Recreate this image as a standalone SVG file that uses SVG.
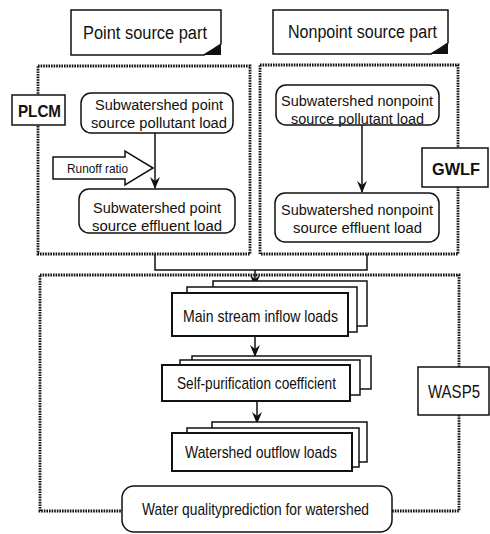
<svg xmlns="http://www.w3.org/2000/svg" width="490" height="534" viewBox="0 0 490 534">
  <style>
    text { font-family: "Liberation Sans", Arial, sans-serif; fill: #111; }
    .t { font-size: 17px; }
    .t2 { font-size: 15.5px; }
    .big { font-size: 18px; }
    .lab { font-size: 17px; font-weight: bold; }
    .small { font-size: 13.5px; }
    .box { fill: #fff; stroke: #111; stroke-width: 1.5; }
    .front { fill: #fff; stroke: #111; stroke-width: 2; }
    .dot { fill: none; stroke: #111; stroke-width: 2.8; stroke-dasharray: 1.6 1; }
    .line { fill: none; stroke: #111; stroke-width: 1.5; }
  </style>
  <defs>
    <marker id="head" viewBox="0 0 12 10" refX="11" refY="5" markerWidth="12" markerHeight="10" markerUnits="userSpaceOnUse" orient="auto">
      <path d="M0,0 L12,5 L0,10 L4,5 z" fill="#111"/>
    </marker>
  </defs>
  <rect width="490" height="534" fill="#fff"/>

  <!-- dotted model regions -->
  <g id="regions">
    <rect class="dot" x="38" y="66" width="212" height="188"/>
    <rect class="dot" x="260" y="65" width="198" height="189"/>
    <rect class="dot" x="40" y="275" width="419" height="236"/>
  </g>

  <!-- connectors -->
  <g id="connectors">
    <line class="line" x1="155" y1="133" x2="155" y2="188" marker-end="url(#head)"/>
    <line class="line" x1="362" y1="125" x2="362" y2="192" marker-end="url(#head)"/>
    <polyline class="line" points="155,254 155,270 367,270 367,254"/>
    <line class="line" x1="255" y1="270" x2="255" y2="286" marker-end="url(#head)"/>
    <line class="line" x1="255" y1="336" x2="255" y2="356" marker-end="url(#head)"/>
    <line class="line" x1="257" y1="401" x2="257" y2="423" marker-end="url(#head)"/>
  </g>

  <!-- part headers with curled corner -->
  <g id="point-part">
    <path class="box" d="M71,10 H221 V44 Q212,50 204,55 H71 Z"/>
    <path d="M204,55 Q212,50 221,44 V55 Z" fill="#111"/>
    <text class="big" x="83" y="39" textLength="124" lengthAdjust="spacingAndGlyphs">Point source part</text>
  </g>
  <g id="nonpoint-part">
    <path class="box" d="M273,10 H448 V43 Q439,49 431,54 H273 Z"/>
    <path d="M431,54 Q439,49 448,43 V54 Z" fill="#111"/>
    <text class="big" x="288" y="38" textLength="149" lengthAdjust="spacingAndGlyphs">Nonpoint source part</text>
  </g>

  <!-- model labels -->
  <g id="plcm">
    <rect class="box" x="12" y="95" width="53" height="30"/>
    <text class="lab" x="18" y="117" textLength="43" lengthAdjust="spacingAndGlyphs">PLCM</text>
  </g>
  <g id="gwlf">
    <rect class="box" x="422" y="148" width="66" height="39"/>
    <text class="lab" x="432" y="175" textLength="48" lengthAdjust="spacingAndGlyphs">GWLF</text>
  </g>
  <g id="wasp5">
    <rect class="box" x="418" y="367" width="71" height="48"/>
    <text class="big" x="428" y="398" textLength="52" lengthAdjust="spacingAndGlyphs">WASP5</text>
  </g>

  <!-- point source boxes -->
  <g id="ps-pollutant">
    <rect class="box" x="81" y="93" width="152" height="40" rx="10"/>
    <text class="t2" x="95" y="110" textLength="128" lengthAdjust="spacingAndGlyphs">Subwatershed point</text>
    <text class="t2" x="91" y="128" textLength="136" lengthAdjust="spacingAndGlyphs">source pollutant load</text>
  </g>
  <g id="runoff-ratio">
    <path class="box" d="M53,157 H125 V151 L153,168 L125,185 V179 H53 Z"/>
    <text class="small" x="67" y="173" textLength="61" lengthAdjust="spacingAndGlyphs">Runoff ratio</text>
  </g>
  <g id="ps-effluent">
    <rect class="box" x="79" y="189" width="156" height="44" rx="10"/>
    <text class="t2" x="93" y="213" textLength="128" lengthAdjust="spacingAndGlyphs">Subwatershed point</text>
    <text class="t2" x="92" y="231" textLength="130" lengthAdjust="spacingAndGlyphs">source effluent load</text>
  </g>

  <!-- nonpoint source boxes -->
  <g id="nps-pollutant">
    <rect class="box" x="276" y="85" width="163" height="40" rx="10"/>
    <text class="t2" x="281" y="106" textLength="152" lengthAdjust="spacingAndGlyphs">Subwatershed nonpoint</text>
    <text class="t2" x="291" y="124" textLength="133" lengthAdjust="spacingAndGlyphs">source pollutant load</text>
  </g>
  <g id="nps-effluent">
    <rect class="box" x="275" y="193" width="164" height="49" rx="10"/>
    <text class="t2" x="281" y="215" textLength="152" lengthAdjust="spacingAndGlyphs">Subwatershed nonpoint</text>
    <text class="t2" x="293" y="233" textLength="129" lengthAdjust="spacingAndGlyphs">source effluent load</text>
  </g>

  <!-- stacked documents -->
  <g id="inflow-loads">
    <rect class="box" x="213" y="281" width="154" height="45"/>
    <rect class="box" x="187" y="287" width="170" height="45"/>
    <rect class="front" x="172" y="293" width="176" height="43"/>
    <text class="t" x="183" y="322" textLength="155" lengthAdjust="spacingAndGlyphs">Main stream inflow loads</text>
  </g>
  <g id="self-purification">
    <rect class="box" x="192" y="356" width="179" height="33"/>
    <rect class="box" x="180" y="360" width="180" height="35"/>
    <rect class="front" x="162" y="365" width="188" height="36"/>
    <text class="t" x="177" y="389" textLength="159" lengthAdjust="spacingAndGlyphs">Self-purification coefficient</text>
  </g>
  <g id="outflow-loads">
    <rect class="box" x="212" y="422" width="155" height="40"/>
    <rect class="box" x="187" y="428" width="172" height="39"/>
    <rect class="front" x="172" y="433" width="180" height="38"/>
    <text class="t" x="185" y="458" textLength="152" lengthAdjust="spacingAndGlyphs">Watershed outflow loads</text>
  </g>

  <!-- final output -->
  <g id="water-quality">
    <rect class="box" x="122" y="486" width="270" height="46" rx="12"/>
    <text class="t" x="142" y="515" textLength="227" lengthAdjust="spacingAndGlyphs">Water qualityprediction for watershed</text>
  </g>
</svg>
